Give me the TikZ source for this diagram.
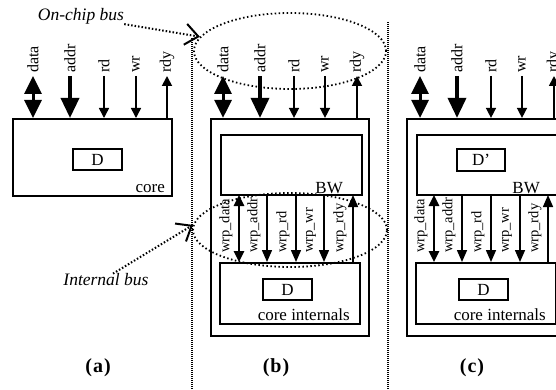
\documentclass[tikz,border=0pt]{standalone}
\usepackage{fontspec}
\setmainfont{Liberation Serif}
\usetikzlibrary{arrows.meta,shapes.geometric}
\begin{document}
\begin{tikzpicture}[x=1pt,y=-1pt,
  box/.style={draw, line width=2pt, inner sep=0pt},
  boxtxt/.style={inner sep=0pt, font=\fontsize{17}{17}\selectfont},
  toplbl/.style={rotate=90, anchor=west, inner sep=0pt, font=\fontsize{16}{16}\selectfont},
  wrplbl/.style={rotate=90, anchor=west, inner sep=0pt, font=\fontsize{14.5}{14.5}\selectfont},
  bigdbl/.style={line width=3pt, {Triangle[length=18pt,width=17pt]}-{Triangle[length=18pt,width=17pt]}},
  bigone/.style={line width=3.5pt, -{Triangle[length=20pt,width=18pt]}},
  thinone/.style={line width=1.5pt, -{Triangle[length=10pt,width=10pt]}},
  rdyone/.style={line width=1.8pt, -{Triangle[length=10pt,width=10pt]}},
  wdbl/.style={line width=2.5pt, {Triangle[length=11pt,width=10pt]}-{Triangle[length=11pt,width=10pt]}},
  wone/.style={line width=1.5pt, -{Triangle[length=12pt,width=10pt]}},
  busell/.style={ellipse, draw, line width=1.8pt, dash pattern=on 1.5pt off 2.5pt, inner sep=0pt},
  sepline/.style={line width=1.2pt, dash pattern=on 1pt off 1pt},
  callout/.style={line width=2pt, dash pattern=on 1.5pt off 2pt, -{Straight Barb[length=13pt,width=21pt,line width=2pt]}},
  itl/.style={inner sep=0pt, font=\fontsize{17.5}{17.5}\selectfont\itshape},
  captxt/.style={inner sep=0pt, font=\fontsize{20}{20}\selectfont\bfseries}
]
\useasboundingbox (0,0) rectangle (556,390);
\clip (0,0) rectangle (556,390);

% ---------- separators ----------
\coordinate (s1t) at (192,38);  \coordinate (s1b) at (192,390);
\coordinate (s2t) at (388,22);  \coordinate (s2b) at (388,390);
\draw[sepline] (s1t) -- (s1b);
\draw[sepline] (s2t) -- (s2b);

% ---------- (a) ----------
\node[box, minimum width=159pt, minimum height=77pt] (coreA) at (92.5,157.5) {};
\node[box, minimum width=49pt, minimum height=21pt] (DA) at (97.5,159.5) {};
\node[boxtxt] at (DA) {D};
\node[boxtxt, anchor=base east] (coreAL) at (165,192) {core};
\foreach \n/\x in {data/33,addr/70,rd/104,wr/136,rdy/167}{
  \coordinate (a\n) at (\x,76);
  \node[toplbl] (a\n L) at (\x,73) {\n};
}
\draw[bigdbl] (adata) -- (adata |- coreA.north);
\draw[bigone] (aaddr) -- (aaddr |- coreA.north);
\draw[thinone] (ard) -- (ard |- coreA.north);
\draw[thinone] (awr) -- (awr |- coreA.north);
\draw[rdyone] (ardy |- coreA.north) -- (ardy);
\node[captxt] (capA) at (98,368) {(\kern1pt a\kern1pt)};

% ---------- (b) ----------
\node[box, line width=2.2pt, minimum width=158pt, minimum height=217pt] (outerB) at (290,227.5) {};
\node[box, minimum width=141pt, minimum height=60pt] (bwB) at (291.5,165) {};
\node[box, minimum width=140pt, minimum height=61pt] (ciB) at (290,293.5) {};
\node[box, minimum width=49pt, minimum height=21pt] (DB) at (287.5,289.5) {};
\node[boxtxt] at (DB) {D};
\node[boxtxt, anchor=base east] (bwBL) at (343,193) {BW};
\node[boxtxt, anchor=base east] (ciBL) at (350,320) {core internals};
\foreach \n/\x in {data/223,addr/260,rd/294,wr/325,rdy/357}{
  \coordinate (b\n) at (\x,76);
  \node[toplbl] (b\n L) at (\x,73) {\n};
}
\draw[bigdbl] (bdata) -- (bdata |- outerB.north);
\draw[bigone] (baddr) -- (baddr |- outerB.north);
\draw[thinone] (brd) -- (brd |- outerB.north);
\draw[thinone] (bwr) -- (bwr |- outerB.north);
\draw[rdyone] (brdy |- outerB.north) -- (brdy);
\foreach \n/\x in {data/239,addr/267,rd/296,wr/324,rdy/353}{
  \coordinate (bw\n) at (\x,195);
  \node[wrplbl] (bw\n L) at (\x-13,253) {wrp\_\n};
}
\draw[wdbl] (bwdata) -- (bwdata |- ciB.north);
\draw[wone] (bwaddr) -- (bwaddr |- ciB.north);
\draw[wone] (bwrd) -- (bwrd |- ciB.north);
\draw[wone] (bwwr) -- (bwwr |- ciB.north);
\draw[wone] (bwrdy |- ciB.north) -- (bwrdy);
\node[captxt] (capB) at (276,368) {(\kern1pt b\kern1pt)};

% ---------- (c) ----------
\node[box, line width=2.2pt, minimum width=158pt, minimum height=217pt] (outerC) at (486,227.5) {};
\node[box, minimum width=141pt, minimum height=60pt] (bwC) at (487.5,165) {};
\node[box, minimum width=140pt, minimum height=61pt] (ciC) at (486,293.5) {};
\node[box, minimum width=48pt, minimum height=22pt] (DpC) at (481,160) {};
\node[boxtxt] at (DpC) {D’};
\node[box, minimum width=49pt, minimum height=21pt] (DC) at (483.5,289.5) {};
\node[boxtxt] at (DC) {D};
\node[boxtxt, anchor=base east] (bwCL) at (540,193) {BW};
\node[boxtxt, anchor=base east] (ciCL) at (546,320) {core internals};
\foreach \n/\x in {data/420,addr/457,rd/491,wr/522,rdy/554}{
  \coordinate (c\n) at (\x,76);
  \node[toplbl] (c\n L) at (\x,73) {\n};
}
\draw[bigdbl] (cdata) -- (cdata |- outerC.north);
\draw[bigone] (caddr) -- (caddr |- outerC.north);
\draw[thinone] (crd) -- (crd |- outerC.north);
\draw[thinone] (cwr) -- (cwr |- outerC.north);
\draw[rdyone] (crdy |- outerC.north) -- (crdy);
\foreach \n/\x in {data/434,addr/462,rd/491,wr/520,rdy/548}{
  \coordinate (cw\n) at (\x,195);
  \node[wrplbl] (cw\n L) at (\x-13,253) {wrp\_\n};
}
\draw[wdbl] (cwdata) -- (cwdata |- ciC.north);
\draw[wone] (cwaddr) -- (cwaddr |- ciC.north);
\draw[wone] (cwrd) -- (cwrd |- ciC.north);
\draw[wone] (cwwr) -- (cwwr |- ciC.north);
\draw[wone] (cwrdy |- ciC.north) -- (cwrdy);
\node[captxt] (capC) at (472,368) {(\kern1pt c\kern1pt)};

% ---------- buses ----------
\node[busell, minimum width=192pt, minimum height=76pt] (ellA) at (290,51) {};
\node[busell, minimum width=194pt, minimum height=74pt] (ellB) at (290,230) {};
\node[itl] (onchip) at (81,16) {On-chip bus};
\node[itl] (intbus) at (106,280) {Internal bus};
\draw[callout] (onchip.south east) -- (ellA.171);
\draw[callout] ([xshift=7pt]intbus.north) -- (ellB.177);
\end{tikzpicture}
\end{document}
